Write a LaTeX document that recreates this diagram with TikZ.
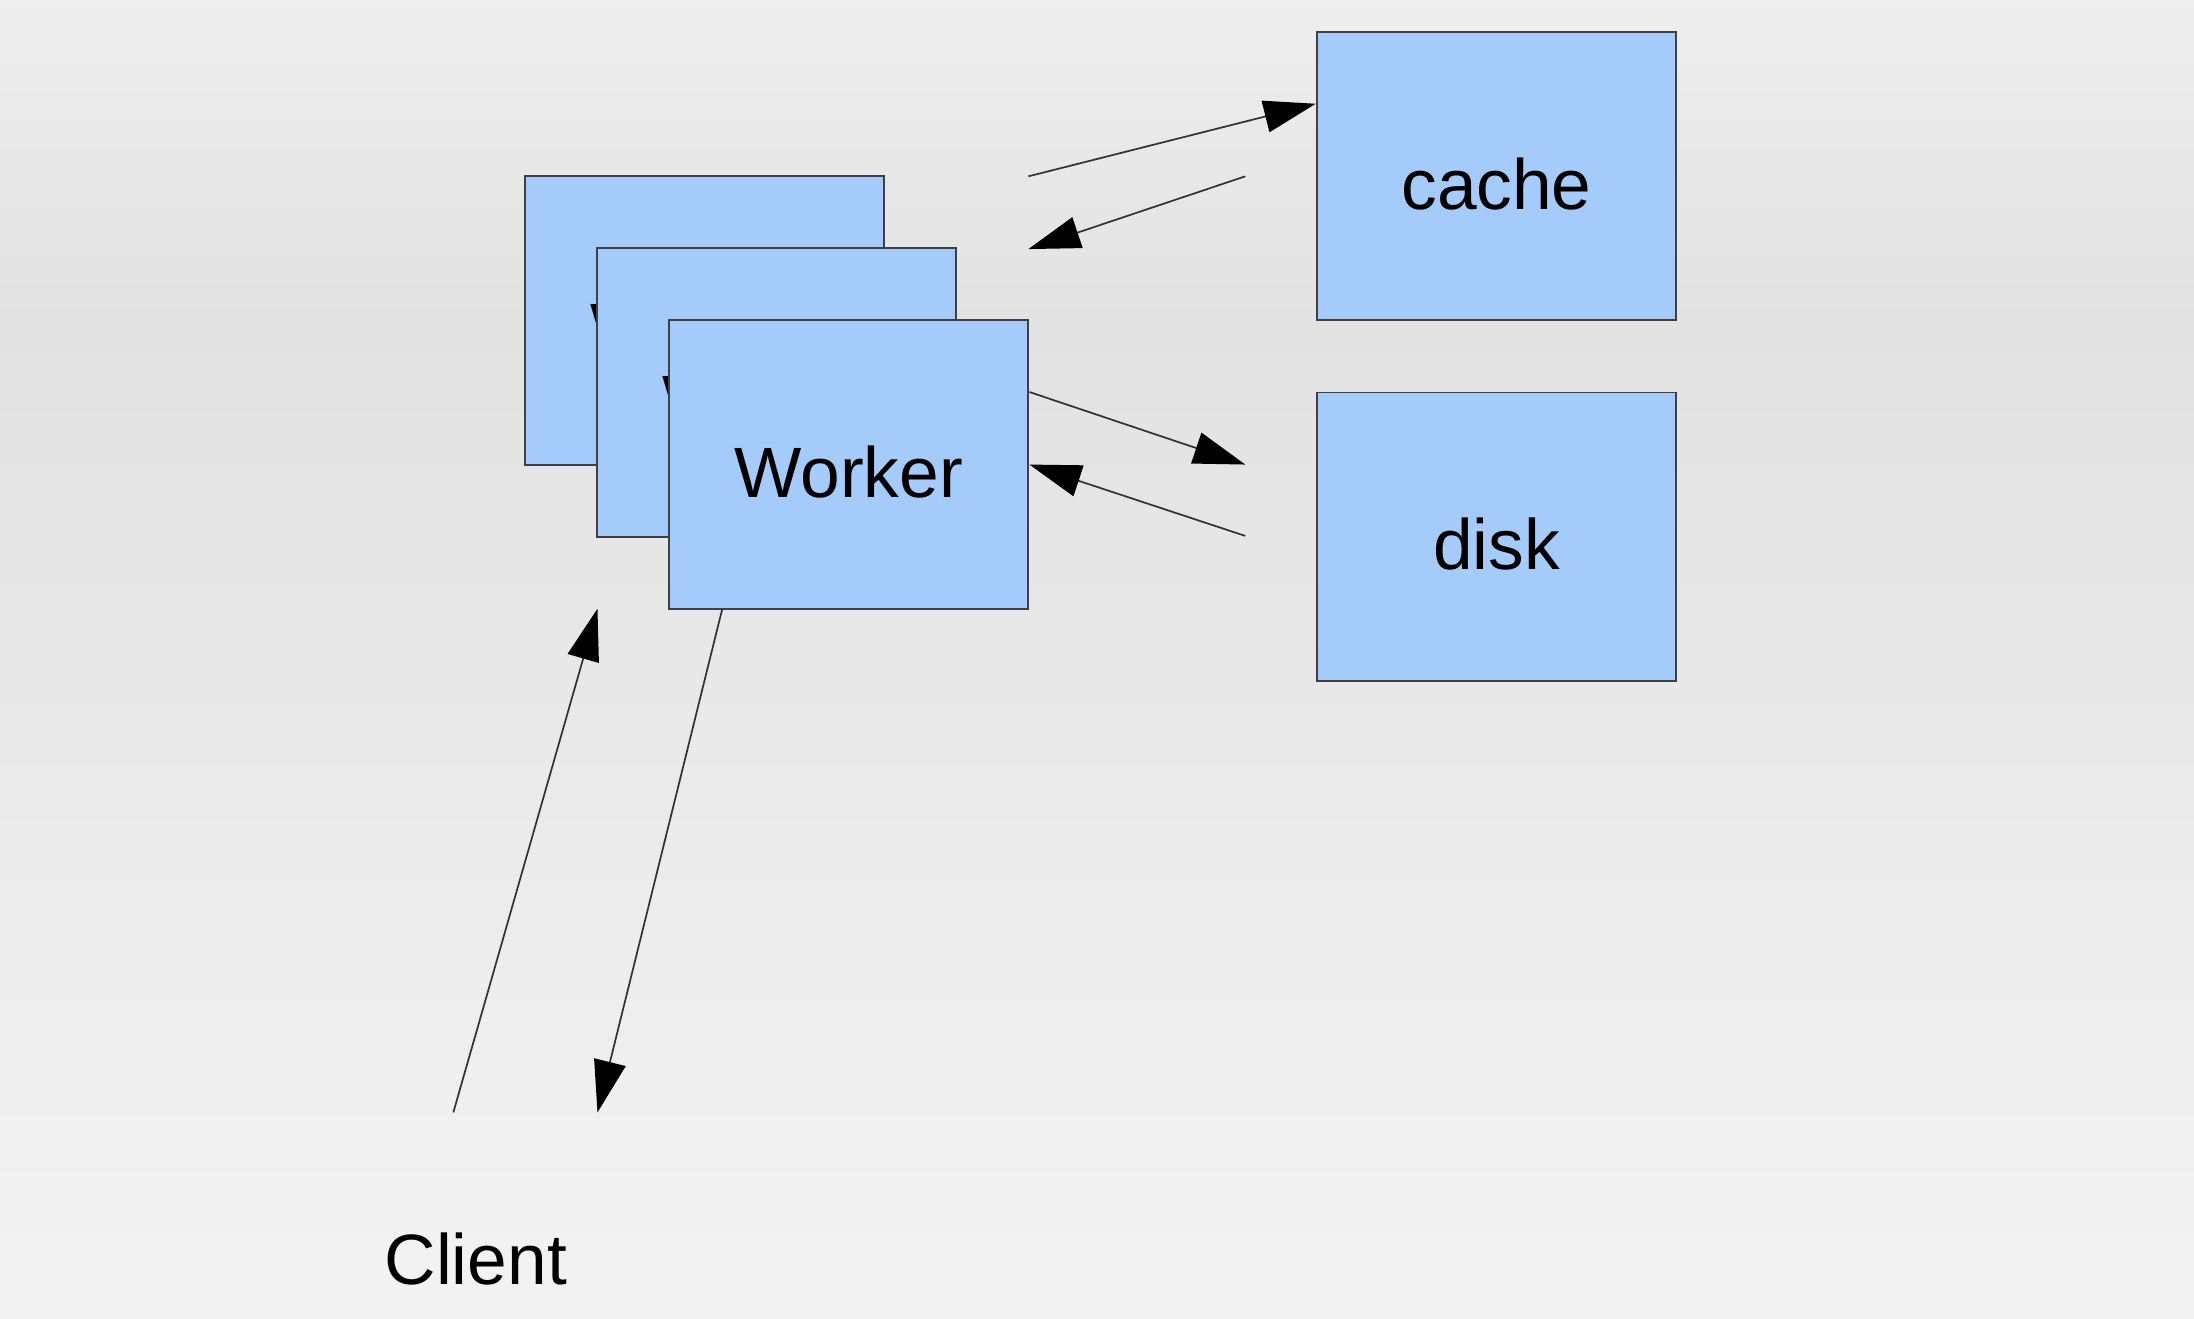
\documentclass[tikz,border=0pt]{standalone}
\usepackage{fontspec}
\setmainfont{Liberation Sans}
\usetikzlibrary{calc,arrows.meta,positioning}
\definecolor{boxblue}{RGB}{164,203,249}
\definecolor{bgtop}{RGB}{238,238,238}
\definecolor{bgmid}{RGB}{226,226,226}
\definecolor{bgbot}{RGB}{243,243,243}

\begin{document}
\begin{tikzpicture}[x=0.1mm,y=-0.1mm,
    box/.style={draw=black!75,line width=0.4pt,fill=boxblue,
      minimum width=25.7mm,minimum height=20.6mm,inner sep=0pt,
      text height=13.4pt,text depth=0pt,font=\fontsize{14.5pt}{17pt}\selectfont},
    flow/.style={draw=black!80,line width=0.35pt,-{Triangle[length=3.7mm,width=2.3mm,black]}}]
        \useasboundingbox (0,0) rectangle (1568,942);
        \shade[top color=bgtop,bottom color=bgmid] (0,0) rectangle (1568,230);
        \shade[top color=bgmid,bottom color=bgbot] (0,230) rectangle (1568,942);

        % stacked workers, front one last
        \foreach \i in {0,1,2}
          \node[box] (w\i) at (503.5+51.5*\i,229+51.5*\i) {Worker};

        \node[box] (cache) at (1069.5,126) {cache};
        \node[box] (disk) at (1069.5,383.5) {disk};
        \node[font=\fontsize{14.5pt}{17pt}\selectfont,anchor=base] (client) at (340,918) {Client};

        \coordinate (cout) at (735,126);
        \coordinate (cback) at (890,126);
        \coordinate (cin) at (735,178);
        \coordinate (dto) at (890,332);
        \coordinate (dback) at (890,383);
        \coordinate (req) at (324,795);
        \coordinate (reqend) at (427,435);
        \coordinate (resp) at (427,795);

        \draw[flow] (cout) -- ($(cache.north west)!.25!(cache.south west)$);
        \draw[flow] (cback) -- (cin);
        \draw[flow] ($(w2.north east)!.25!(w2.south east)$) -- (dto);
        \draw[flow] (dback) -- (w2.east);
        \draw[flow] (req) -- (reqend);
        \draw[flow] ($(w2.south west)!.15!(w2.south east)$) -- (resp);
      \end{tikzpicture}
\end{document}
